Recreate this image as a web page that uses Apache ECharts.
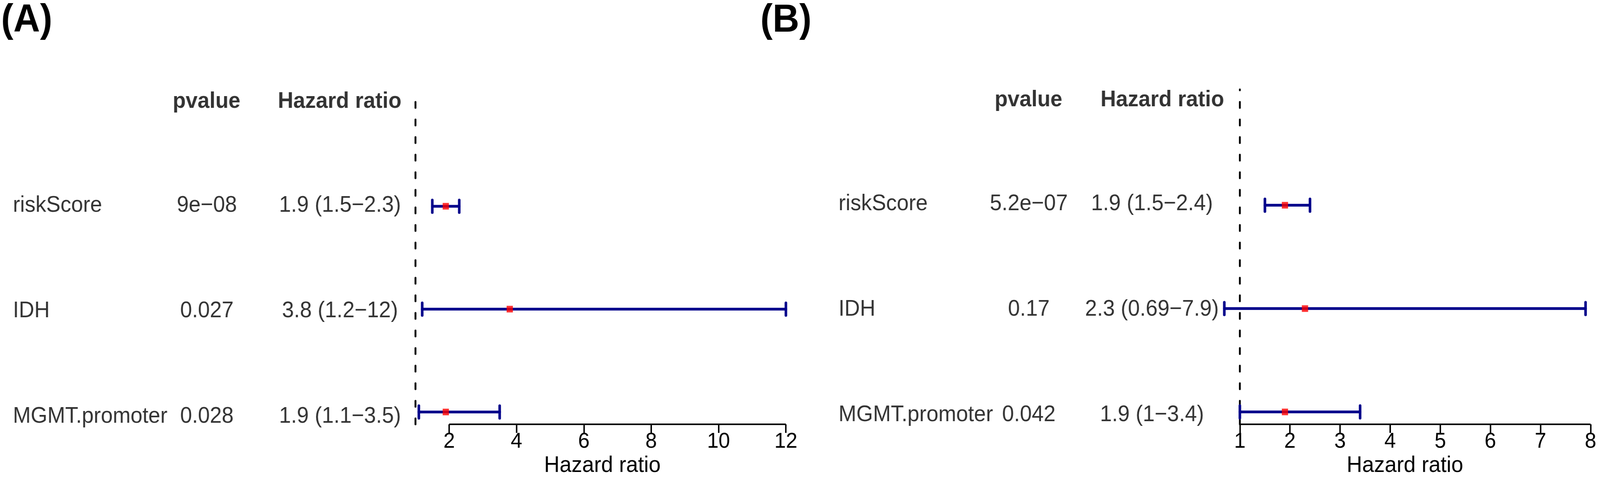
<!DOCTYPE html>
<html>
<head>
<meta charset="utf-8">
<script src="https://cdn.jsdelivr.net/npm/echarts@6/dist/echarts.min.js"></script>
<style>
html, body { margin: 0; padding: 0; background: #ffffff; overflow: hidden; }
#chart { width: 4339px; height: 1226px; transform-origin: 0 0; }
</style>
</head>
<body>
<div id="chart"></div>
<script>
// ---------------- data ----------------
const variables = ['riskScore', 'IDH', 'MGMT.promoter'];
const headers = ['pvalue', 'Hazard ratio'];
const axisTitle = 'Hazard ratio';
const refLine = 1;

const pvalueA = ['9e\u221208', '0.027', '0.028'];
const hrA = [1.9, 3.8, 1.9];
const lowA = [1.5, 1.2, 1.1];
const highA = [2.3, 12, 3.5];
const ticksA = [2, 4, 6, 8, 10, 12];

const pvalueB = ['5.2e\u221207', '0.17', '0.042'];
const hrB = [1.9, 2.3, 1.9];
const lowB = [1.5, 0.69, 1];
const highB = [2.4, 7.9, 3.4];
const ticksB = [1, 2, 3, 4, 5, 6, 7, 8];

// ---------------- layout ----------------
const DESIGN_W = 4339, DESIGN_H = 1226;
const FONT = '"Liberation Sans", Arial, Helvetica, sans-serif';
const FS = 58;
const panels = [
  { tag: '(A)', tagLeft: 3, pvalue: pvalueA, hr: hrA, low: lowA, high: highA, ticks: ticksA,
    textLeft: 0, textWidth: 1100, colLabel: 35, colP: 561, colHR: 922, headP: 560, headHR: 921,
    plotLeft: 1096, plotWidth: 1075, top: 233, height: 874 },
  { tag: '(B)', tagLeft: 2062, pvalue: pvalueB, hr: hrB, low: lowB, high: highB, ticks: ticksB,
    textLeft: 2170, textWidth: 1190, colLabel: 104, colP: 620, colHR: 954, headP: 619, headHR: 982,
    plotLeft: 3281, plotWidth: 1063, top: 229, height: 874 }
];

// fit the design box into the actual window (the browser may cap the width)
const el = document.getElementById('chart');
const sx = Math.min(1, window.innerWidth / DESIGN_W);
const sy = Math.min(1, window.innerHeight / DESIGN_H);
el.style.transform = 'scale(' + sx + ',' + sy + ')';

const n = variables.length;
const yMin = 1 - 0.04 * n;
const yMax = n + 1 + 0.04 * n;
const TEXT_DY = -9;
const HEAD_DY = -5;

const grid = [], xAxis = [], yAxis = [], series = [], title = [];

panels.forEach((p, i) => {
  const gT = 2 * i, gF = 2 * i + 1;
  grid.push({ left: p.textLeft, width: p.textWidth, top: p.top, height: p.height });
  grid.push({ left: p.plotLeft, width: p.plotWidth, top: p.top, height: p.height });

  xAxis.push({ gridIndex: gT, type: 'value', min: 0, max: p.textWidth, show: false });
  const lo = Math.min(...p.low), hi = Math.max(...p.high);
  const pad = 0.04 * (hi - lo);
  xAxis.push({
    gridIndex: gF, type: 'value', min: lo - pad, max: hi + pad,
    axisLine: { show: false },
    splitLine: { show: false },
    axisTick: { show: true, customValues: p.ticks, length: 22, lineStyle: { color: '#000', width: 4 } },
    axisLabel: { show: true, customValues: p.ticks, fontSize: 56, color: '#000', fontFamily: FONT, margin: 16 },
    name: axisTitle, nameLocation: 'middle', nameGap: 66,
    nameTextStyle: { fontSize: FS, color: '#000', fontFamily: FONT }
  });
  yAxis.push({ gridIndex: gT, type: 'value', min: yMin, max: yMax, show: false });
  yAxis.push({ gridIndex: gF, type: 'value', min: yMin, max: yMax, show: false });

  title.push({ text: p.tag, left: p.tagLeft, top: 3, padding: 0,
    textStyle: { fontSize: 100, fontWeight: 'bold', color: '#000', fontFamily: FONT } });

  // text columns
  const txt = [];
  const lab = (x, y, s, align, bold, dy) => ({
    value: [x, y],
    label: { formatter: s, align: align, fontWeight: bold ? 'bold' : 'normal', offset: [0, dy] }
  });
  txt.push(lab(p.headP, n + 1, headers[0], 'center', true, HEAD_DY));
  txt.push(lab(p.headHR, n + 1, headers[1], 'center', true, HEAD_DY));
  variables.forEach((v, r) => {
    const y = n - r;
    txt.push(lab(p.colLabel, y, v, 'left', false, TEXT_DY));
    txt.push(lab(p.colP, y, p.pvalue[r], 'center', false, TEXT_DY));
    txt.push(lab(p.colHR, y, p.hr[r] + ' (' + p.low[r] + '\u2212' + p.high[r] + ')', 'center', false, TEXT_DY));
  });
  series.push({
    type: 'scatter', xAxisIndex: gT, yAxisIndex: gT, symbolSize: 0, silent: true,
    data: txt,
    label: { show: true, position: 'inside', fontSize: FS, color: '#000', fontFamily: FONT }
  });

  // reference dashed line
  series.push({
    type: 'line', xAxisIndex: gF, yAxisIndex: gF, symbol: 'none', silent: true, clip: false,
    data: [[refLine, yMin], [refLine, yMax]],
    lineStyle: { color: '#000', width: 5, type: [15, 30], cap: 'round' }, z: 1
  });
  // axis line from first to last tick
  series.push({
    type: 'line', xAxisIndex: gF, yAxisIndex: gF, symbol: 'none', silent: true, clip: false,
    data: [[p.ticks[0], yMin], [p.ticks[p.ticks.length - 1], yMin]],
    lineStyle: { color: '#000', width: 4 }, z: 2
  });
  // error bars
  series.push({
    type: 'custom', xAxisIndex: gF, yAxisIndex: gF, silent: true, clip: false, z: 3,
    data: variables.map((v, r) => [p.low[r], p.high[r], n - r]),
    encode: { x: [0, 1], y: 2 },
    renderItem: (params, api) => {
      const y = api.value(2);
      const a = api.coord([api.value(0), y]);
      const b = api.coord([api.value(1), y]);
      const h = 16;
      const style = { stroke: '#00008B', lineWidth: 7, lineCap: 'round', fill: null };
      return { type: 'group', children: [
        { type: 'line', shape: { x1: a[0], y1: a[1], x2: b[0], y2: b[1] }, style: style },
        { type: 'line', shape: { x1: a[0], y1: a[1] - h, x2: a[0], y2: a[1] + h }, style: style },
        { type: 'line', shape: { x1: b[0], y1: b[1] - h, x2: b[0], y2: b[1] + h }, style: style }
      ] };
    }
  });
  // point estimates
  series.push({
    type: 'scatter', xAxisIndex: gF, yAxisIndex: gF, silent: true, z: 4,
    symbol: 'rect', symbolSize: 17, itemStyle: { color: '#FF0000' },
    data: variables.map((v, r) => [p.hr[r], n - r])
  });
});

const chart = echarts.init(el, null, { renderer: 'canvas', width: DESIGN_W, height: DESIGN_H });
chart.setOption({
  backgroundColor: '#ffffff',
  animation: false,
  title: title,
  grid: grid,
  xAxis: xAxis,
  yAxis: yAxis,
  series: series
});
</script>
</body>
</html>
